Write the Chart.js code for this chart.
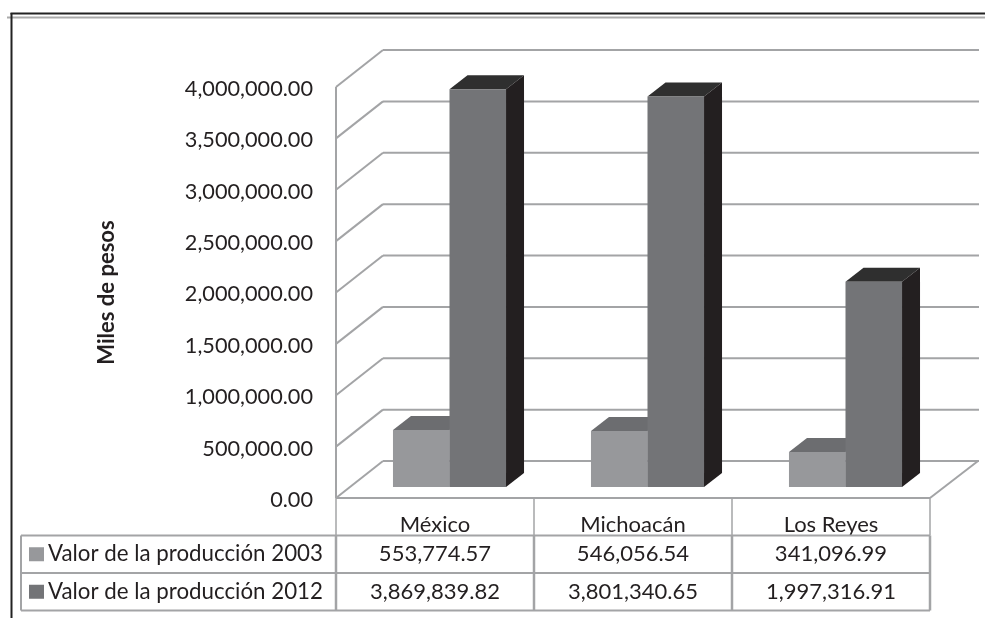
<!DOCTYPE html>
<html>
<head>
<meta charset="utf-8">
<title>Valor de la producción</title>
<script src="https://cdn.jsdelivr.net/npm/chart.js@4"></script>
<style>
body { margin: 0; background: #fff; }
canvas { display: block; }
</style>
</head>
<body>
<canvas id="myChart" width="985" height="618"></canvas>
<script>
const categories = ["México", "Michoacán", "Los Reyes"];
const seriesNames = ["Valor de la producción 2003", "Valor de la producción 2012"];
const values2003 = [553774.57, 546056.54, 341096.99];
const values2012 = [3869839.82, 3801340.65, 1997316.91];

const textColor = "#231f20";
const lineColor = "#a3a4a6";
const frontColors = ["#97989b", "#737477"];
const topColors = ["#6c6d70", "#2f2f2f"];
const sideColors = ["#5a5b5e", "#231f20"];

// depth of the walls and of the bars, in pixels
const wallDx = 47, wallDy = -37;
const barShiftX = 14.5, barShiftY = -11;
const barDx = 18, barDy = -14;
const wallRight = 979;
const rowLines = [498, 535.5, 573, 610.5];
const tableLeft = 21;

function money(v) {
    return v.toLocaleString("en-US", {minimumFractionDigits: 2, maximumFractionDigits: 2});
}

function line(ctx, x1, y1, x2, y2) {
    ctx.beginPath();
    ctx.moveTo(x1, y1);
    ctx.lineTo(x2, y2);
    ctx.stroke();
}

function poly(ctx, pts, color) {
    ctx.fillStyle = color;
    ctx.beginPath();
    pts.forEach((p, i) => i ? ctx.lineTo(p[0], p[1]) : ctx.moveTo(p[0], p[1]));
    ctx.closePath();
    ctx.fill();
}

const chart3d = {
    id: "chart3d",
    beforeDatasetsDraw(chart) {
        const ctx = chart.ctx;
        const y = chart.scales.y;
        const area = chart.chartArea;

        // page frame
        ctx.save();
        ctx.strokeStyle = "#aaaaaa";
        ctx.lineWidth = 2;
        line(ctx, 7, 17.5, 985, 17.5);
        ctx.strokeStyle = "#222222";
        line(ctx, 11.5, 13, 11.5, 618);
        line(ctx, 10.5, 13.5, 985, 13.5);

        // walls and floor
        ctx.strokeStyle = lineColor;
        ctx.lineWidth = 2;
        y.ticks.forEach(t => {
            const py = y.getPixelForValue(t.value);
            line(ctx, area.left, py, area.left + wallDx, py + wallDy);
            line(ctx, area.left + wallDx, py + wallDy, wallRight, py + wallDy);
        });
        line(ctx, area.left, area.top, area.left, area.bottom);
        line(ctx, area.left, area.bottom, area.right, area.bottom);
        line(ctx, area.right, area.bottom, area.right + wallDx + 1, area.bottom + wallDy);

        // top and side faces, the fronts come from the library
        ctx.translate(barShiftX, barShiftY);
        chart.data.datasets.forEach((ds, d) => {
            chart.getDatasetMeta(d).data.forEach(bar => {
                const l = bar.x - bar.width / 2, r = bar.x + bar.width / 2;
                poly(ctx, [[l, bar.y], [r, bar.y], [r + barDx, bar.y + barDy], [l + barDx, bar.y + barDy]], topColors[d]);
                poly(ctx, [[r, bar.y], [r + barDx, bar.y + barDy], [r + barDx, bar.base + barDy], [r, bar.base]], sideColors[d]);
            });
        });
        ctx.restore();

        ctx.save();
        ctx.translate(barShiftX, barShiftY);
    },
    afterDatasetsDraw(chart) {
        chart.ctx.restore();
    },
    afterDraw(chart) {
        const ctx = chart.ctx;
        const area = chart.chartArea;
        const cellW = (area.right - area.left) / categories.length;
        const rows = [values2003, values2012];

        ctx.save();
        ctx.strokeStyle = lineColor;
        ctx.fillStyle = textColor;
        ctx.textBaseline = "middle";

        // header cell dividers are thinner than the ones below
        ctx.lineWidth = 1.5;
        for (let i = 0; i <= categories.length; i++) {
            const cx = area.left + i * cellW;
            line(ctx, cx, rowLines[0], cx, rowLines[1]);
        }
        ctx.lineWidth = 2.5;
        for (let i = 0; i <= categories.length; i++) {
            const cx = area.left + i * cellW;
            line(ctx, cx, rowLines[1], cx, rowLines[3]);
        }
        ctx.lineWidth = 2;
        line(ctx, tableLeft, rowLines[1], tableLeft, rowLines[3]);
        line(ctx, tableLeft, rowLines[1], area.right, rowLines[1]);
        line(ctx, tableLeft, rowLines[2], area.right, rowLines[2]);
        line(ctx, tableLeft, rowLines[3], area.right, rowLines[3]);

        rows.forEach((vals, r) => {
            const my = (rowLines[r + 1] + rowLines[r + 2]) / 2;
            ctx.fillStyle = frontColors[r];
            ctx.fillRect(29, my - 7, 15, 14);
            ctx.fillStyle = textColor;
            ctx.textAlign = "left";
            ctx.font = "22.3px Lato";
            ctx.fillText(seriesNames[r], 48, my);
            ctx.textAlign = "center";
            ctx.font = "22px Lato";
            vals.forEach((v, c) => ctx.fillText(money(v), area.left + (c + 0.5) * cellW, my));
        });
        ctx.restore();
    }
};

new Chart("myChart", {
    type: "bar",
    data: {
        labels: categories,
        datasets: [
            {label: seriesNames[0], data: values2003, backgroundColor: frontColors[0], clip: false},
            {label: seriesNames[1], data: values2012, backgroundColor: frontColors[1], clip: false}
        ]
    },
    options: {
        responsive: false,
        animation: false,
        layout: {padding: {top: 87, right: 55, bottom: 0, left: 0}},
        datasets: {bar: {categoryPercentage: 0.571, barPercentage: 1}},
        plugins: {legend: {display: false}, tooltip: {enabled: false}},
        scales: {
            x: {
                grid: {display: false},
                border: {display: false},
                ticks: {color: textColor, font: {family: "Lato", size: 22}, padding: 6, maxRotation: 0},
                afterFit(scale) { scale.height = 120; }
            },
            y: {
                min: 0,
                max: 4000000,
                grid: {display: false, drawTicks: false},
                border: {display: false},
                ticks: {
                    stepSize: 500000,
                    color: textColor,
                    font: {family: "Lato", size: 21.7},
                    padding: 23,
                    labelOffset: 2,
                    callback: v => money(v)
                },
                title: {
                    display: true,
                    text: "Miles de pesos",
                    color: textColor,
                    font: {family: "Lato", size: 22, weight: "bold"},
                    padding: {top: 94, bottom: 0}
                },
                afterFit(scale) { scale.width = 336; }
            }
        }
    },
    plugins: [chart3d]
});
</script>
</body>
</html>
